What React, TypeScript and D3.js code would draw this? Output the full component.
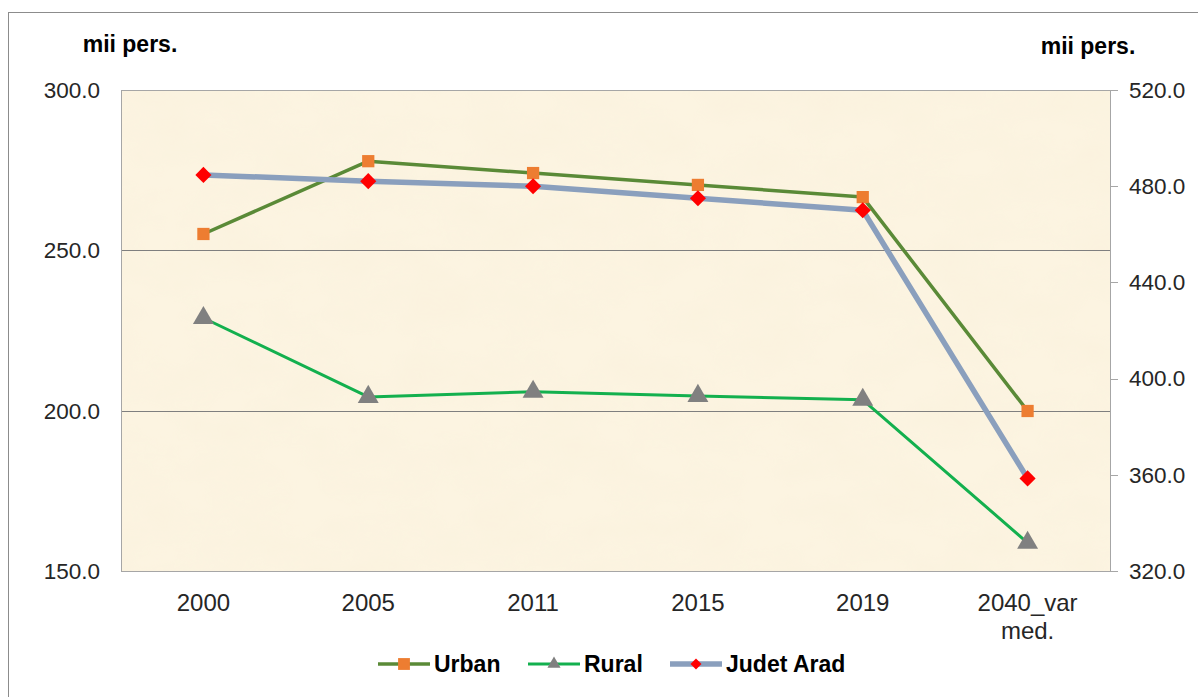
import React, { useEffect, useRef } from "react";
import * as d3 from "d3";

const categories = ["2000", "2005", "2011", "2015", "2019", "2040_var med."];
const urban = [255.1, 277.8, 274.1, 270.4, 266.6, 199.9];
const rural = [228.9, 204.3, 205.9, 204.6, 203.4, 158.8];
const judet = [484.7, 482.1, 480.0, 475.0, 470.0, 358.5];
const leftTicks = [150, 200, 250, 300];
const rightTicks = [320, 360, 400, 440, 480, 520];

const W = 1198;
const H = 697;
const FONT = "'Liberation Sans', Arial, sans-serif";

const App = () => {
  const ref = useRef<SVGSVGElement>(null);

  useEffect(() => {
    const svg = d3.select(ref.current);
    svg.selectAll("*").remove();

    const m = { left: 121, right: 1110, top: 90, bottom: 571 };

    const x = d3.scaleBand().domain(categories).range([m.left, m.right]);
    const yL = d3.scaleLinear().domain([150, 300]).range([m.bottom, m.top]);
    const yR = d3.scaleLinear().domain([320, 520]).range([m.bottom, m.top]);
    const cx = (c) => x(c) + x.bandwidth() / 2;

    // outer chart border
    svg
      .append("rect")
      .attr("x", 8.5)
      .attr("y", 12.5)
      .attr("width", W + 20)
      .attr("height", H + 20)
      .attr("fill", "white")
      .attr("stroke", "#8c8c8c");

    // parchment texture
    const defs = svg.append("defs");
    const f = defs.append("filter").attr("id", "paper").attr("x", 0).attr("y", 0).attr("width", 1).attr("height", 1);
    f.append("feTurbulence")
      .attr("type", "fractalNoise")
      .attr("baseFrequency", "0.015 0.025")
      .attr("numOctaves", 4)
      .attr("seed", 7);
    f.append("feColorMatrix")
      .attr("type", "matrix")
      .attr("values", "0 0 0 0 0.94  0 0 0 0 0.86  0 0 0 0 0.70  0 0 0 0.55 -0.15");
    f.append("feComposite").attr("in2", "SourceGraphic").attr("operator", "in");

    svg
      .append("rect")
      .attr("x", m.left)
      .attr("y", m.top)
      .attr("width", m.right - m.left)
      .attr("height", m.bottom - m.top)
      .attr("fill", "#fcf4e1");
    svg
      .append("rect")
      .attr("x", m.left)
      .attr("y", m.top)
      .attr("width", m.right - m.left)
      .attr("height", m.bottom - m.top)
      .attr("fill", "#fcf4e1")
      .attr("filter", "url(#paper)");

    // gridlines
    svg
      .append("g")
      .selectAll("line")
      .data([200, 250])
      .join("line")
      .attr("x1", m.left)
      .attr("x2", m.right)
      .attr("y1", (d) => Math.round(yL(d)) + 0.5)
      .attr("y2", (d) => Math.round(yL(d)) + 0.5)
      .attr("stroke", "#7f7f7f")
      .attr("stroke-width", 1);

    // plot frame
    svg
      .append("rect")
      .attr("x", m.left + 0.5)
      .attr("y", m.top + 0.5)
      .attr("width", m.right - m.left)
      .attr("height", m.bottom - m.top)
      .attr("fill", "none")
      .attr("stroke", "#a6a6a6");

    // right axis ticks
    svg
      .append("g")
      .selectAll("line")
      .data(rightTicks)
      .join("line")
      .attr("x1", m.right)
      .attr("x2", m.right + 8)
      .attr("y1", (d) => Math.round(yR(d)) + 0.5)
      .attr("y2", (d) => Math.round(yR(d)) + 0.5)
      .attr("stroke", "#a6a6a6");

    const tickText = (g, size) =>
      g.attr("font-family", FONT).attr("font-size", size).attr("fill", "#262626");

    svg
      .append("g")
      .call(tickText, 22.5)
      .selectAll("text")
      .data(leftTicks)
      .join("text")
      .attr("x", 100)
      .attr("y", (d) => yL(d))
      .attr("dy", "0.35em")
      .attr("text-anchor", "end")
      .text((d) => d.toFixed(1));

    svg
      .append("g")
      .call(tickText, 22.5)
      .selectAll("text")
      .data(rightTicks)
      .join("text")
      .attr("x", 1129)
      .attr("y", (d) => yR(d))
      .attr("dy", "0.35em")
      .attr("text-anchor", "start")
      .text((d) => d.toFixed(1));

    // category labels
    const xl = svg.append("g").call(tickText, 24);
    categories.forEach((c) => {
      const parts = c.split(" ");
      const t = xl
        .append("text")
        .attr("x", cx(c))
        .attr("y", 611)
        .attr("text-anchor", "middle");
      parts.forEach((p, i) => {
        t.append("tspan").attr("x", cx(c)).attr("dy", i === 0 ? 0 : 28).text(p);
      });
    });

    // unit labels
    [
      [130, 52],
      [1088, 54],
    ].forEach(([px, py]) => {
      svg
        .append("text")
        .attr("x", px)
        .attr("y", py)
        .attr("text-anchor", "middle")
        .attr("font-family", FONT)
        .attr("font-size", 23)
        .attr("font-weight", "bold")
        .attr("fill", "#000")
        .text("mii pers.");
    });

    const series = [
      { name: "Urban", values: urban, y: yL, line: "#5a8a37", width: 3.5, marker: "square", mcolor: "#ed7d31" },
      { name: "Rural", values: rural, y: yL, line: "#13b04e", width: 3, marker: "triangle", mcolor: "#808080" },
      { name: "Judet Arad", values: judet, y: yR, line: "#8a9fbd", width: 5.5, marker: "diamond", mcolor: "#ff0000" },
    ];

    const symType = {
      square: d3.symbolSquare,
      triangle: d3.symbolTriangle,
      diamond: d3.symbolSquare,
    };
    const symSize = { square: 150, triangle: 190, diamond: 130 };
    const legSize = { square: 140, triangle: 75, diamond: 60 };

    const drawMarker = (g, kind, color, px, py, sizes) => {
      g.append("path")
        .attr("d", d3.symbol().type(symType[kind]).size(sizes[kind])())
        .attr("transform", `translate(${px},${py})` + (kind === "diamond" ? " rotate(45)" : ""))
        .attr("fill", color);
    };

    const plot = svg.append("g");
    series.forEach((s) => {
      const line = d3
        .line<number>()
        .x((_, i) => cx(categories[i]))
        .y((d) => s.y(d));
      plot
        .append("path")
        .datum(s.values)
        .attr("d", line)
        .attr("fill", "none")
        .attr("stroke", s.line)
        .attr("stroke-width", s.width)
        .attr("stroke-linejoin", "round");
    });
    series.forEach((s) => {
      s.values.forEach((v, i) => drawMarker(plot, s.marker, s.mcolor, cx(categories[i]), s.y(v), symSize));
    });

    // legend
    const legendX = [378, 528, 670];
    const ly = 664;
    series.forEach((s, i) => {
      const g = svg.append("g");
      g.append("line")
        .attr("x1", legendX[i])
        .attr("x2", legendX[i] + 52)
        .attr("y1", ly)
        .attr("y2", ly)
        .attr("stroke", s.line)
        .attr("stroke-width", s.width);
      drawMarker(g, s.marker, s.mcolor, legendX[i] + 26, ly, legSize);
      g.append("text")
        .attr("x", legendX[i] + 56)
        .attr("y", ly)
        .attr("dy", "0.35em")
        .attr("font-family", FONT)
        .attr("font-size", 23)
        .attr("font-weight", "bold")
        .attr("fill", "#000")
        .text(s.name);
    });
  }, []);

  return (
    <svg
      ref={ref}
      width={W}
      height={H}
      style={{ position: "absolute", left: 0, top: 0, display: "block" }}
    ></svg>
  );
};

export default App;
